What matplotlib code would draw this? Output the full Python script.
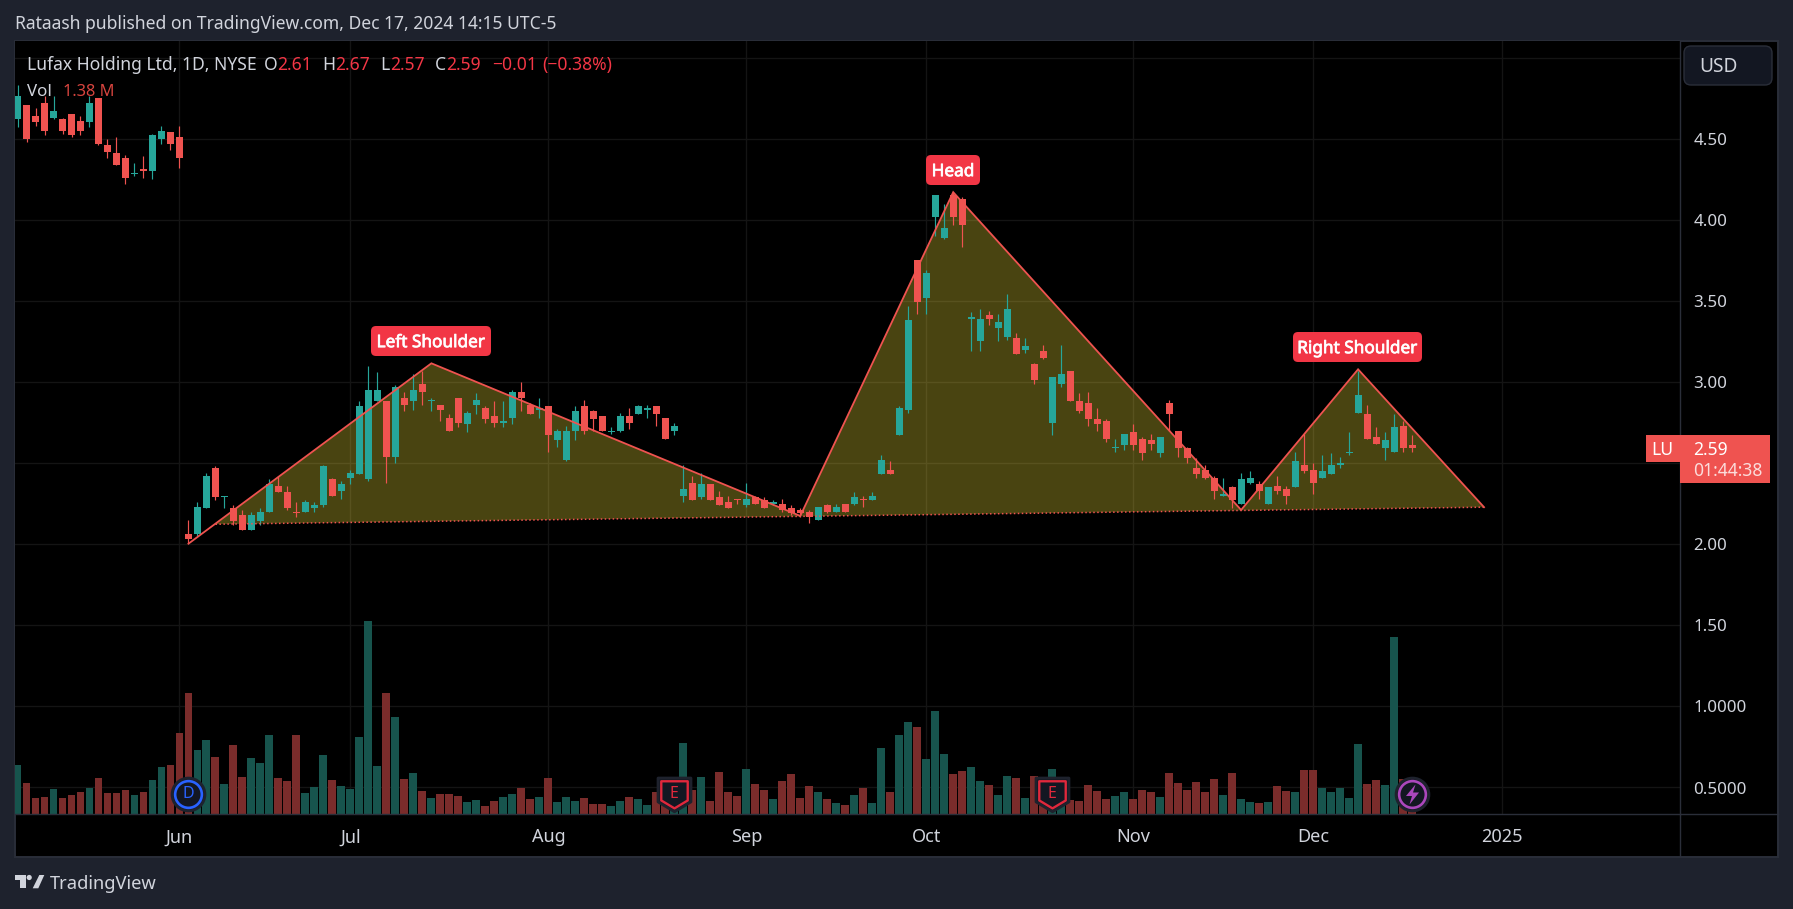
# grafica de velas LU con patron hombro-cabeza-hombro
import numpy as np
import matplotlib
matplotlib.use("Agg")
import matplotlib.pyplot as plt
import matplotlib.patheffects as pe
from matplotlib.patches import Rectangle, FancyBboxPatch, Polygon, Circle
from matplotlib.path import Path

plt.rcParams["font.family"] = ["Noto Sans", "DejaVu Sans"]

# velas diarias, la barra 0 es el 3 de junio de 2024
primera_barra = -18
aperturas = [4.62, 4.71, 4.64, 4.72, 4.63, 4.62, 4.65, 4.61, 4.60, 4.75, 4.46, 4.41, 4.38, 4.28, 4.31, 4.30, 4.50, 4.54, 4.51,
             2.06, 2.06, 2.22, 2.47, 2.29, 2.22, 2.18, 2.09, 2.14, 2.20, 2.36, 2.32, 2.20, 2.20, 2.22, 2.24, 2.40, 2.33,
             2.41, 2.43, 2.40, 2.88, 2.88, 2.54, 2.90, 2.88, 2.99, 2.88, 2.86, 2.78, 2.90, 2.74, 2.86, 2.84, 2.79, 2.75,
             2.78, 2.94, 2.86, 2.83, 2.85, 2.64, 2.52, 2.70, 2.85, 2.82, 2.79, 2.69, 2.70, 2.79, 2.80, 2.83, 2.85, 2.78,
             2.70, 2.30, 2.38, 2.29, 2.37, 2.29, 2.26, 2.28, 2.24, 2.29, 2.27, 2.25, 2.25, 2.22, 2.21, 2.20, 2.15, 2.24,
             2.20, 2.25, 2.25, 2.28, 2.27, 2.43, 2.46, 2.67, 2.83, 3.75, 3.52, 4.02, 3.89, 4.15, 4.13, 3.39, 3.25, 3.41,
             3.33, 3.28, 3.27, 3.20, 3.11, 3.19, 2.75, 2.99, 3.07, 2.88, 2.87, 2.77, 2.76, 2.59, 2.61, 2.69, 2.65, 2.64,
             2.56, 2.87, 2.70, 2.59, 2.47, 2.46, 2.41, 2.30, 2.35, 2.25, 2.38, 2.37, 2.25, 2.36, 2.34, 2.35, 2.49, 2.46,
             2.41, 2.43, 2.49, 2.56, 2.81, 2.80, 2.66, 2.59, 2.57, 2.73, 2.61]
maximos = [4.83, 4.71, 4.69, 4.76, 4.76, 4.63, 4.65, 4.64, 4.76, 4.75, 4.50, 4.51, 4.40, 4.35, 4.39, 4.53, 4.58, 4.54, 4.58,
           2.15, 2.26, 2.44, 2.48, 2.30, 2.24, 2.21, 2.20, 2.22, 2.40, 2.42, 2.36, 2.26, 2.27, 2.26, 2.49, 2.41, 2.39,
           2.46, 2.88, 3.10, 3.06, 2.88, 2.98, 2.94, 3.05, 3.07, 2.90, 2.86, 2.80, 2.90, 2.82, 2.93, 2.85, 2.88, 2.88,
           2.95, 3.00, 2.87, 2.90, 2.85, 2.71, 2.73, 2.85, 2.89, 2.83, 2.79, 2.72, 2.81, 2.84, 2.86, 2.86, 2.85, 2.78,
           2.75, 2.49, 2.42, 2.44, 2.37, 2.33, 2.30, 2.28, 2.38, 2.30, 2.29, 2.27, 2.28, 2.24, 2.22, 2.21, 2.23, 2.25,
           2.25, 2.25, 2.32, 2.30, 2.32, 2.55, 2.51, 2.85, 3.47, 3.75, 3.69, 4.15, 4.10, 4.17, 4.14, 3.43, 3.45, 3.44,
           3.42, 3.54, 3.30, 3.27, 3.12, 3.23, 3.03, 3.23, 3.07, 2.93, 2.94, 2.84, 2.77, 2.65, 2.68, 2.74, 2.66, 2.68,
           2.66, 2.89, 2.70, 2.60, 2.53, 2.49, 2.42, 2.41, 2.36, 2.44, 2.45, 2.39, 2.35, 2.42, 2.36, 2.57, 2.68, 2.50,
           2.55, 2.56, 2.54, 2.69, 3.07, 2.86, 2.72, 2.69, 2.80, 2.76, 2.67]
minimos = [4.57, 4.48, 4.58, 4.52, 4.62, 4.53, 4.51, 4.52, 4.57, 4.46, 4.38, 4.34, 4.22, 4.27, 4.26, 4.25, 4.47, 4.43, 4.32,
           2.01, 2.05, 2.22, 2.27, 2.22, 2.12, 2.09, 2.09, 2.12, 2.20, 2.32, 2.21, 2.17, 2.20, 2.20, 2.23, 2.30, 2.28,
           2.37, 2.43, 2.39, 2.88, 2.38, 2.50, 2.82, 2.83, 2.86, 2.82, 2.76, 2.70, 2.72, 2.69, 2.80, 2.75, 2.72, 2.72,
           2.74, 2.82, 2.80, 2.78, 2.57, 2.60, 2.51, 2.64, 2.68, 2.70, 2.70, 2.68, 2.69, 2.71, 2.80, 2.78, 2.73, 2.65,
           2.67, 2.26, 2.27, 2.28, 2.27, 2.24, 2.22, 2.25, 2.23, 2.25, 2.22, 2.24, 2.20, 2.18, 2.17, 2.13, 2.15, 2.19,
           2.20, 2.20, 2.24, 2.23, 2.27, 2.43, 2.43, 2.67, 2.81, 3.42, 3.42, 3.90, 3.88, 3.97, 3.83, 3.19, 3.19, 3.35,
           3.25, 3.26, 3.17, 3.18, 2.99, 3.14, 2.67, 2.97, 2.88, 2.81, 2.73, 2.70, 2.63, 2.57, 2.58, 2.58, 2.52, 2.58,
           2.54, 2.70, 2.54, 2.50, 2.41, 2.40, 2.28, 2.30, 2.22, 2.25, 2.37, 2.28, 2.25, 2.31, 2.25, 2.35, 2.44, 2.31,
           2.41, 2.43, 2.47, 2.55, 2.81, 2.65, 2.62, 2.52, 2.57, 2.57, 2.57]
cierres = [4.76, 4.50, 4.60, 4.55, 4.67, 4.55, 4.52, 4.55, 4.72, 4.47, 4.42, 4.34, 4.26, 4.28, 4.30, 4.52, 4.55, 4.47, 4.38,
           2.03, 2.23, 2.42, 2.29, 2.30, 2.14, 2.09, 2.18, 2.20, 2.37, 2.32, 2.22, 2.19, 2.26, 2.24, 2.48, 2.30, 2.37,
           2.44, 2.85, 2.95, 2.95, 2.54, 2.97, 2.86, 2.95, 2.94, 2.88, 2.83, 2.70, 2.75, 2.81, 2.89, 2.77, 2.75, 2.75,
           2.94, 2.90, 2.80, 2.84, 2.67, 2.70, 2.70, 2.82, 2.70, 2.77, 2.70, 2.69, 2.79, 2.75, 2.85, 2.83, 2.80, 2.65,
           2.73, 2.34, 2.27, 2.37, 2.27, 2.24, 2.22, 2.27, 2.28, 2.25, 2.22, 2.26, 2.21, 2.19, 2.19, 2.17, 2.23, 2.20,
           2.23, 2.20, 2.29, 2.27, 2.30, 2.52, 2.43, 2.84, 3.38, 3.49, 3.67, 4.15, 3.95, 4.02, 3.97, 3.40, 3.39, 3.39,
           3.37, 3.45, 3.17, 3.22, 3.01, 3.15, 3.03, 3.05, 2.88, 2.82, 2.77, 2.74, 2.65, 2.60, 2.68, 2.61, 2.56, 2.62,
           2.66, 2.80, 2.59, 2.53, 2.43, 2.41, 2.33, 2.31, 2.27, 2.40, 2.41, 2.33, 2.35, 2.33, 2.30, 2.51, 2.45, 2.38,
           2.45, 2.49, 2.49, 2.56, 2.92, 2.65, 2.62, 2.64, 2.72, 2.59, 2.59]
volumen = [0.638, 0.527, 0.434, 0.440, 0.490, 0.434, 0.453, 0.471, 0.496, 0.558, 0.465, 0.465, 0.484, 0.453, 0.471, 0.545, 0.626, 0.638, 0.835,
           1.082, 0.730, 0.792, 0.687, 0.521, 0.761, 0.564, 0.681, 0.650, 0.823, 0.558, 0.539, 0.823, 0.465, 0.502, 0.700, 0.545, 0.508,
           0.490, 0.811, 1.527, 0.632, 1.082, 0.934, 0.551, 0.588, 0.477, 0.434, 0.459, 0.459, 0.447, 0.410, 0.422, 0.385, 0.416, 0.440,
           0.459, 0.496, 0.428, 0.440, 0.558, 0.410, 0.440, 0.416, 0.434, 0.397, 0.397, 0.385, 0.416, 0.440, 0.428, 0.391, 0.471, 0.412,
           0.412, 0.774, 0.484, 0.564, 0.416, 0.595, 0.471, 0.447, 0.613, 0.521, 0.484, 0.428, 0.539, 0.582, 0.434, 0.508, 0.471, 0.428,
           0.403, 0.391, 0.453, 0.496, 0.403, 0.743, 0.471, 0.823, 0.903, 0.872, 0.675, 0.971, 0.706, 0.582, 0.601, 0.626, 0.539, 0.515,
           0.453, 0.570, 0.558, 0.434, 0.570, 0.412, 0.613, 0.401, 0.422, 0.416, 0.515, 0.477, 0.428, 0.447, 0.471, 0.428, 0.484, 0.471,
           0.440, 0.588, 0.527, 0.484, 0.533, 0.471, 0.551, 0.453, 0.588, 0.428, 0.410, 0.403, 0.410, 0.508, 0.477, 0.471, 0.607, 0.607,
           0.496, 0.471, 0.496, 0.434, 0.767, 0.521, 0.545, 0.515, 1.428, 0.551, 0.360]

# patron: hombro izq, cabeza, hombro der (barra, precio)
patron_x = [1, 28, 69, 86, 118, 131, 145]
patron_y = [2.003, 3.115, 2.174, 4.170, 2.211, 3.078, 2.228]
cuello_x = [4, 145]
cuello_y = [2.123, 2.228]

# ejes
meses = ["Jun", "Jul", "Aug", "Sep", "Oct", "Nov", "Dec", "2025"]
meses_x = [0, 19, 41, 63, 83, 106, 126, 147]
precios = [5.0, 4.5, 4.0, 3.5, 3.0, 2.5, 2.0, 1.5, 1.0, 0.5]
# 5.00 y 2.50 quedan tapados en la original
precios_txt = ["", "4.50", "4.00", "3.50", "3.00", "", "2.00", "1.50", "1.0000", "0.5000"]

# marcadores de eventos
dividendo_x, ganancias_x, rayo_x = [1], [55, 97], [137]
eventos_y = 0.46

FONDO = "#1e222d"
BORDE = "#2a2e39"
MALLA = "#141414"
VERDE = "#26a69a"
ROJO = "#ef5350"
VERDE_V = "#17544d"
ROJO_V = "#7a2c2b"
ETIQUETA = "#f23645"
TEXTO = "#d1d4dc"

W, H = 1793, 909
fig = plt.figure(figsize=(W / 100, H / 100), dpi=100, facecolor=FONDO)

# capa de fondo en pixeles
fondo = fig.add_axes([0, 0, 1, 1], zorder=0)
fondo.set_xlim(0, W)
fondo.set_ylim(H, 0)
fondo.axis("off")
fondo.add_patch(Rectangle((14.5, 40.5), 1763.5, 816, facecolor="black", edgecolor=BORDE, linewidth=1.4))
fondo.plot([1680, 1680], [814, 856], color=BORDE, linewidth=1.0)
fondo.plot([1680, 1778], [814, 814], color=BORDE, linewidth=1.0)

# panel principal
ax = fig.add_axes([15 / W, 1 - 814 / H, (1680 - 15) / W, (814 - 41) / H], zorder=1)
ax.set_facecolor("black")
ax.set_xlim(-18.28, 166.78)
ax.set_ylim(0.3366, 5.102)
for lado in ["top", "left"]:
    ax.spines[lado].set_visible(False)
for lado in ["right", "bottom"]:
    ax.spines[lado].set_color(BORDE)
    ax.spines[lado].set_linewidth(1.0)
ax.set_xticks(meses_x)
ax.set_xticklabels([])
ax.set_yticks(precios)
ax.set_yticklabels([])
ax.tick_params(length=0)
ax.grid(True, color=MALLA, linewidth=1.0)
ax.set_axisbelow(True)

barras = np.arange(primera_barra, primera_barra + len(cierres))
aperturas = np.array(aperturas)
cierres = np.array(cierres)
sube = cierres >= aperturas

# volumen
ax.bar(barras, volumen, width=0.88, color=np.where(sube, VERDE_V, ROJO_V), linewidth=0, zorder=2)

# relleno del patron
relleno_x = [cuello_x[0]] + patron_x[1:]
relleno_y = [cuello_y[0]] + patron_y[1:]
ax.fill(relleno_x, relleno_y, color="#ffeb3b", alpha=0.29, linewidth=0, zorder=2.5)

# velas
ax.vlines(barras, minimos, maximos, colors=np.where(sube, VERDE, ROJO), linewidth=0.85, zorder=3)
cuerpo = np.maximum(np.abs(cierres - aperturas), 0.008)
ax.bar(barras, cuerpo, bottom=np.minimum(aperturas, cierres), width=0.78,
       color=np.where(sube, VERDE, ROJO), linewidth=0, zorder=3)

# lineas del patron
ax.plot(patron_x, patron_y, color=ROJO, linewidth=1.3, zorder=4, solid_joinstyle="miter")
ax.plot(cuello_x, cuello_y, color=ROJO, linewidth=1.1, linestyle=(0, (1, 1.6)), zorder=4)

# marcadores
escudo = Path([(-1, 1), (1, 1), (1, -0.45), (0, -1.05), (-1, -0.45), (-1, 1)], closed=True)
rayo = Path([(0.3, 1), (-0.65, -0.15), (-0.05, -0.15), (-0.3, -1), (0.65, 0.2), (0.05, 0.2), (0.3, 1)], closed=True)
ax.scatter(dividendo_x, [eventos_y], s=560, color="#131722", edgecolors="#1e222d", linewidths=2, zorder=5)
ax.scatter(dividendo_x, [eventos_y], s=370, color="#131722", edgecolors="#2962ff", linewidths=1.9, zorder=5)
ax.text(dividendo_x[0], eventos_y, "D", color="#2962ff", fontsize=11.5, ha="center", va="center", zorder=6)
ax.scatter(ganancias_x, [eventos_y] * 2, s=620, marker=escudo, color="#131722", edgecolors="#1e222d", linewidths=2, zorder=5)
ax.scatter(ganancias_x, [eventos_y] * 2, s=400, marker=escudo, color="#131722", edgecolors="#e0283c", linewidths=1.7, zorder=5)
for b in ganancias_x:
    ax.text(b, eventos_y, "E", color="#e0283c", fontsize=11.5, ha="center", va="center", zorder=6)
ax.scatter(rayo_x, [eventos_y], s=560, color="#131722", edgecolors="#1e222d", linewidths=2, zorder=5)
ax.scatter(rayo_x, [eventos_y], s=370, color="#131722", edgecolors="#ab47bc", linewidths=1.9, zorder=5)
ax.scatter(rayo_x, [eventos_y], s=210, marker=rayo, color="#ab47bc", linewidths=0, zorder=6)

# capa de textos en pixeles
capa = fig.add_axes([0, 0, 1, 1], zorder=2)
capa.set_xlim(0, W)
capa.set_ylim(H, 0)
capa.axis("off")


def texto(x, y, s, color=TEXTO, size=12.6, ha="left", **kw):
    # y es el centro de las mayusculas
    return capa.text(x, y + size * 100 / 72 * 0.357, s, color=color, fontsize=size, ha=ha, va="baseline", **kw)


def caja(x0, y0, x1, y1, color, radio=5, borde="none"):
    capa.add_patch(FancyBboxPatch((x0, y0), x1 - x0, y1 - y0, boxstyle=f"round,pad=0,rounding_size={radio}",
                                  facecolor=color, edgecolor=borde, linewidth=1))


texto(15, 23, "Rataash published on TradingView.com, Dec 17, 2024 14:15 UTC-5")

# leyenda
texto(27, 64, "Lufax Holding Ltd, 1D, NYSE")
for x, s in zip([264, 322, 380, 435], ["O", "H", "L", "C"]):
    texto(x, 64, s)
for x, s in zip([277, 335, 390, 446, 492, 542], ["2.61", "2.67", "2.57", "2.59", "−0.01", "(−0.38%)"]):
    texto(x, 64, s, color=ETIQUETA)
texto(27, 90, "Vol", size=12.2)
texto(63, 90, "1.38 M", color="#d8453f", size=11.8)

# etiquetas del patron, con trazo para engrosar la letra
for x0, x1, y0, s in [(371, 491, 326, "Left Shoulder"), (926, 980, 155, "Head"), (1293, 1422, 332, "Right Shoulder")]:
    caja(x0, y0, x1, y0 + 30, ETIQUETA)
    t = texto((x0 + x1) / 2, y0 + 15, s, color="white", size=12.4, ha="center")
    t.set_path_effects([pe.withStroke(linewidth=0.5, foreground="white")])

# eje de precios
px = lambda p: 544.2 - (p - 2) * 162.2
for p, s in zip(precios, precios_txt):
    texto(1693.5, px(p), s, size=12.2)

# eje de tiempo
for b, s in zip(meses_x, meses):
    texto(179.5 + 8.997 * b, 836, s, size=13, ha="center", fontweight="bold" if s == "2025" else "normal")

# moneda
caja(1684, 46, 1772, 85, "#131722", radio=7, borde=BORDE)
texto(1699, 65, "USD", size=13.8)

# precio actual
capa.add_patch(Rectangle((1646, 435), 33.5, 27, facecolor=ROJO, linewidth=0))
capa.add_patch(Rectangle((1680, 435), 89.5, 48, facecolor=ROJO, linewidth=0))
texto(1662.5, 448.5, "LU", color="white", size=12.6, ha="center")
texto(1693, 449, "2.59", color="white", size=12.6)
texto(1693, 470, "01:44:38", color="#fbdcdb", size=12.6)

# logo
capa.add_patch(Polygon([(15, 875), (25.7, 875), (25.7, 888.3), (20, 888.3), (20, 879.7), (15, 879.7)], facecolor=TEXTO, linewidth=0))
capa.add_patch(Circle((29.2, 877.5), 2.6, facecolor=TEXTO, linewidth=0))
capa.add_patch(Polygon([(39.3, 875), (44.3, 875), (38.3, 888.3), (32.7, 888.3)], facecolor=TEXTO, linewidth=0))
texto(50, 882.5, "TradingView", size=13.2)

fig.savefig("out.png", dpi=100, facecolor=FONDO)
